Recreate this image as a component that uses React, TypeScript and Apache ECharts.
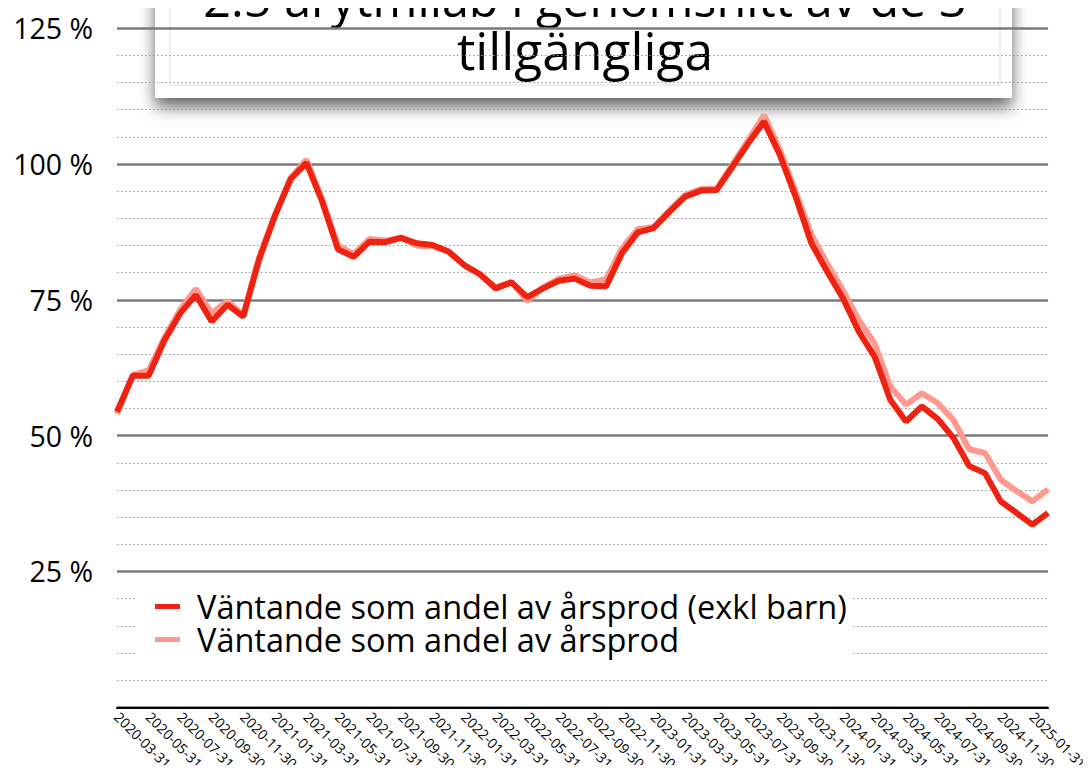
import React, { useEffect, useRef } from "react";
import * as echarts from "echarts";

const months: string[] = [
  "2020-03-31","2020-04-30","2020-05-31","2020-06-30","2020-07-31","2020-08-31","2020-09-30","2020-10-31","2020-11-30","2020-12-31",
  "2021-01-31","2021-02-28","2021-03-31","2021-04-30","2021-05-31","2021-06-30","2021-07-31","2021-08-31","2021-09-30","2021-10-31",
  "2021-11-30","2021-12-31","2022-01-31","2022-02-28","2022-03-31","2022-04-30","2022-05-31","2022-06-30","2022-07-31","2022-08-31",
  "2022-09-30","2022-10-31","2022-11-30","2022-12-31","2023-01-31","2023-02-28","2023-03-31","2023-04-30","2023-05-31","2023-06-30",
  "2023-07-31","2023-08-31","2023-09-30","2023-10-31","2023-11-30","2023-12-31","2024-01-31","2024-02-29","2024-03-31","2024-04-30",
  "2024-05-31","2024-06-30","2024-07-31","2024-08-31","2024-09-30","2024-10-31","2024-11-30","2024-12-31","2025-01-31","2025-02-28",
];

const exklBarn: number[] = [
  54.4, 61.0, 61.0, 67.5, 72.5, 75.9, 71.0, 74.1, 71.9, 82.4,
  90.4, 97.2, 100.2, 93.1, 84.3, 82.9, 85.7, 85.6, 86.4, 85.4,
  85.1, 83.9, 81.4, 79.7, 77.1, 78.2, 75.5, 77.1, 78.5, 78.9,
  77.6, 77.5, 83.6, 87.4, 88.2, 91.2, 94.0, 95.1, 95.2, 99.5,
  103.8, 107.8, 101.7, 94.0, 85.4, 80.2, 75.3, 69.2, 64.6, 56.6,
  52.6, 55.4, 53.1, 49.6, 44.4, 43.1, 37.9, 35.8, 33.6, 35.8,
];

const total: number[] = [
  54.0, 61.2, 62.0, 68.0, 73.2, 77.0, 72.5, 74.8, 72.2, 82.8,
  90.6, 97.4, 100.8, 93.5, 85.0, 83.4, 86.2, 85.9, 86.5, 85.0,
  84.8, 83.9, 81.4, 79.7, 77.3, 78.3, 74.8, 77.3, 78.9, 79.5,
  78.2, 78.8, 84.5, 88.0, 88.4, 91.4, 94.3, 95.4, 95.4, 99.9,
  104.4, 109.0, 102.6, 94.9, 87.0, 81.7, 76.8, 71.3, 67.0, 59.1,
  55.7, 57.8, 56.0, 52.9, 47.5, 46.8, 41.9, 39.8, 37.9, 40.1,
];

const seriesNames: string[] = [
  "Väntande som andel av årsprod (exkl barn)",
  "Väntande som andel av årsprod",
];

const titleLines: string[] = ["2.5 arytmilab i genomsnitt av de 3", "tillgängliga"];

const FONT = "'Open Sans', 'Noto Sans', sans-serif";

export default function App() {
  const ref = useRef<HTMLDivElement>(null);
  useEffect(() => {
    if (!ref.current) return;
    const chart = echarts.init(ref.current, undefined, { renderer: "svg" });
    chart.setOption({
      animation: false,
      backgroundColor: "#ffffff",
      grid: { left: 117, right: 39, top: 1, bottom: 65, containLabel: false },
      xAxis: {
        type: "category",
        data: months,
        boundaryGap: false,
        axisLine: { show: true, lineStyle: { color: "#000", width: 2 } },
        axisTick: { show: false },
        axisLabel: {
          interval: 1,
          rotate: -45,
          margin: 7,
          fontSize: 14,
          fontFamily: FONT,
          color: "#000",
        },
        splitLine: { show: false },
      },
      yAxis: [
        {
          type: "value",
          min: 0,
          max: 130,
          interval: 25,
          axisLine: { show: false },
          axisTick: { show: false },
          axisLabel: {
            margin: 24,
            fontSize: 28.5,
            fontFamily: FONT,
            color: "#000",
            formatter: (v: number) => (v > 0 && v % 25 === 0 ? v + " %" : ""),
          },
          splitLine: { show: true, lineStyle: { color: "#7a7a7a", width: 2.5, type: "solid" } },
        },
        {
          type: "value",
          min: 0,
          max: 130,
          interval: 5,
          position: "left",
          axisLine: { show: false },
          axisTick: { show: false },
          axisLabel: { show: false },
          splitLine: {
            show: true,
            lineStyle: {
              color: ["transparent", "#999", "#999", "#999", "#999"],
              width: 1,
              type: [1.5, 2.5],
            },
          },
        },
      ],
      legend: {
        orient: "vertical",
        left: 137,
        top: 588,
        backgroundColor: "#ffffff",
        padding: [2, 6, 2, 18],
        itemGap: 0,
        itemWidth: 25,
        itemHeight: 5,
        icon: "rect",
        textStyle: {
          fontSize: 32.5,
          fontFamily: FONT,
          color: "#000",
          lineHeight: 31,
          padding: [0, 0, 0, 12],
        },
        data: seriesNames,
      },
      series: [
        {
          name: seriesNames[1],
          type: "line",
          data: total,
          showSymbol: false,
          symbol: "none",
          z: 2,
          itemStyle: { color: "#ff9990" },
          lineStyle: { color: "#ff9990", width: 6 },
        },
        {
          name: seriesNames[0],
          type: "line",
          data: exklBarn,
          showSymbol: false,
          symbol: "none",
          z: 3,
          itemStyle: { color: "#ee2211" },
          lineStyle: { color: "#ee2211", width: 6 },
        },
      ],
      graphic: [
        {
          type: "group",
          z: 100,
          children: [
            {
              type: "rect",
              shape: { x: 155, y: -20, width: 857, height: 118 },
              style: {
                fill: "#ffffff",
                shadowBlur: 16,
                shadowOffsetY: 9,
                shadowColor: "rgba(0,0,0,0.6)",
              },
            },
            {
              type: "rect",
              shape: { x: 170, y: -20, width: 830, height: 105 },
              style: { fill: "#ffffff", stroke: "#dddddd", lineWidth: 1 },
            },
            {
              type: "text",
              x: 585,
              y: -2,
              style: {
                text: titleLines[0],
                font: "48.5px " + FONT,
                fill: "#000",
                align: "center",
                verticalAlign: "middle",
              },
            },
            {
              type: "text",
              x: 585,
              y: 50,
              style: {
                text: titleLines[1],
                font: "51.5px " + FONT,
                fill: "#000",
                align: "center",
                verticalAlign: "middle",
              },
            },
          ],
        },
      ],
    });
    return () => chart.dispose();
  }, []);
  return <div ref={ref} style={{ width: 1091, height: 773, margin: -8 }} />;
}
